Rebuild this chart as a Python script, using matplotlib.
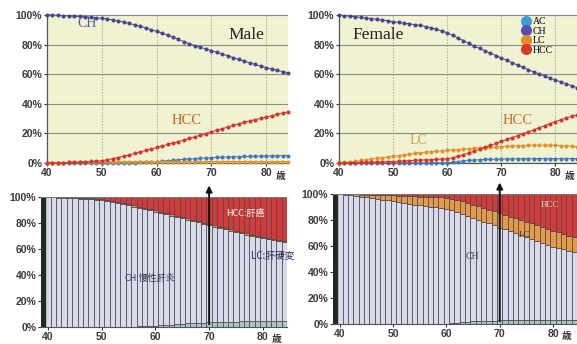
import numpy as np
import matplotlib
matplotlib.use("Agg")
import matplotlib.pyplot as plt
from matplotlib.lines import Line2D

ages = list(range(40, 85))

# male (%)
male_ch = [100, 100, 99.8, 99.6, 99.4, 99.2, 99, 98.8, 98.5, 98.2,
           97.8, 97.3, 96.7, 96, 95.2, 94.3, 93.4, 92.4, 91.3, 90.2,
           89, 87.8, 86.5, 85, 83.5, 82, 80.5, 79.3, 78.2, 77.1,
           76, 74.8, 73.6, 72.4, 71.2, 70, 68.8, 67.7, 66.6, 65.5,
           64.4, 63.5, 62.6, 61.8, 61]
male_hcc = [0, 0.1, 0.2, 0.3, 0.4, 0.5, 0.7, 0.9, 1.1, 1.3,
            1.6, 2.2, 2.9, 3.7, 4.6, 5.5, 6.5, 7.5, 8.5, 9.5,
            10.5, 11.5, 12.5, 13.5, 14.5, 15.5, 16.6, 17.7, 18.8, 19.9,
            21, 22.1, 23.2, 24.3, 25.4, 26.5, 27.5, 28.4, 29.3, 30.2,
            31, 31.9, 32.8, 33.7, 34.5]
male_ac = [0, 0, 0, 0, 0, 0, 0, 0, 0, 0,
           0, 0, 0, 0, 0, 0, 0.2, 0.4, 0.6, 0.8,
           1, 1.3, 1.6, 1.9, 2.2, 2.5, 2.8, 3, 3.2, 3.4,
           3.6, 3.8, 4, 4.1, 4.2, 4.3, 4.4, 4.5, 4.6, 4.7,
           4.8, 4.9, 5, 5, 5]
male_lc = [0, 0.1, 0.2, 0.3, 0.4, 0.5, 0.5, 0.6, 0.6, 0.7,
           0.7, 0.8, 0.8, 0.8, 0.9, 0.9, 0.9, 0.9, 1, 1,
           1, 1, 1, 1, 1, 1, 1, 1, 1, 1,
           1, 1, 1, 1, 1, 1, 1, 1, 1, 1,
           1, 1, 1, 1, 1]

# female (%)
female_ch = [100, 99.6, 99.2, 98.8, 98.4, 98, 97.6, 97.1, 96.6, 96.1,
             95.5, 95, 94.5, 94, 93.5, 93, 92.2, 91.3, 90.3, 89.2,
             88, 86.3, 84.5, 82.7, 80.8, 79, 77.4, 75.8, 74.2, 72.6,
             71, 69.4, 67.8, 66.2, 64.6, 63, 61.6, 60.2, 58.8, 57.4,
             56, 54.8, 53.5, 52.2, 51]
female_lc = [0, 0.4, 0.8, 1.2, 1.7, 2.2, 2.7, 3.1, 3.5, 4,
             4.5, 5, 5.5, 6, 6.5, 7, 7.3, 7.6, 7.9, 8.2,
             8.5, 8.8, 9.1, 9.4, 9.7, 10, 10.2, 10.4, 10.6, 10.8,
             11, 11.2, 11.4, 11.6, 11.8, 12, 12, 12, 12, 12,
             12, 11.8, 11.6, 11.3, 11]
female_hcc = [0, 0.1, 0.2, 0.3, 0.4, 0.5, 0.6, 0.7, 0.8, 0.9,
              1, 1.2, 1.4, 1.6, 1.8, 2, 2.1, 2.2, 2.4, 2.6,
              2.8, 3.6, 4.6, 5.7, 6.8, 8, 9.3, 10.6, 11.9, 13.2,
              14.6, 15.9, 17.2, 18.5, 19.8, 21, 22.4, 23.8, 25.2, 26.6,
              28, 29.2, 30.4, 31.5, 32.6]
female_ac = [0, 0, 0, 0, 0, 0, 0, 0, 0, 0,
             0, 0, 0, 0, 0, 0, 0, 0, 0, 0,
             0, 0.5, 1, 1.4, 1.7, 2, 2.2, 2.4, 2.5, 2.6,
             2.7, 2.8, 2.8, 2.9, 2.9, 3, 3, 3, 3, 3,
             3, 3, 3, 3, 3]

series_names = ["AC", "CH", "LC", "HCC"]
colors = {"AC": "#3f78c0", "CH": "#45478f", "LC": "#e0922e", "HCC": "#d3352c"}
legend_colors = {"AC": "#3f9ad6", "CH": "#5a4fb0", "LC": "#e08a2a", "HCC": "#d83a2a"}
bar_colors = {"AC": "#a8c8bc", "CH": "#d9d9ec", "LC": "#e59a48", "HCC": "#d23b37"}

plt.rcParams["font.family"] = ["Liberation Sans", "Noto Sans CJK JP", "DejaVu Sans"]
cjk = ["Noto Sans CJK JP", "DejaVu Sans"]
serif = ["Liberation Serif", "DejaVu Serif"]

fig = plt.figure(figsize=(5.77, 3.44), dpi=100)
fig.patch.set_facecolor("white")

ax_m = fig.add_axes([47 / 577, 1 - 163 / 344, 241 / 577, 148 / 344])
ax_f = fig.add_axes([339 / 577, 1 - 163 / 344, 238 / 577, 148 / 344])
ax_mb = fig.add_axes([41 / 577, 1 - 327 / 344, 246 / 577, 130 / 344])
ax_fb = fig.add_axes([333 / 577, 1 - 324 / 344, 244 / 577, 130 / 344])


def style_ticks(ax):
    ax.set_ylim(0, 100)
    ax.set_yticks([0, 20, 40, 60, 80, 100])
    ax.set_yticklabels(["0%", "20%", "40%", "60%", "80%", "100%"])
    ax.set_xticks([40, 50, 60, 70, 80])
    ax.tick_params(labelsize=7.5, colors="#333333", length=2, width=0.8, pad=1.5)
    for t in ax.get_xticklabels() + ax.get_yticklabels():
        t.set_fontweight("bold")
        t.set_color("#3a3a3a")
    ax.text(82.6, -0.055, "歳", transform=ax.get_xaxis_transform(),
            fontsize=7, family=cjk, color="#333", ha="center", va="top",
            fontweight="bold")


def line_panel(ax, data):
    ax.set_facecolor("#f0f2d2")
    ax.set_xlim(40, 84)
    style_ticks(ax)
    ax.grid(axis="y", color="#8a8a8a", lw=0.8)
    ax.grid(axis="x", color="#a8a8a0", lw=0.6, ls=(0, (2, 1.5)))
    ax.set_axisbelow(True)
    for name in ["AC", "LC", "HCC", "CH"]:
        ax.plot(ages, data[name], color=colors[name], lw=0.7, marker="o",
                ms=2.9, mew=0, clip_on=False, zorder=3)
    for s in ["top", "right"]:
        ax.spines[s].set_visible(False)
    for s in ["left", "bottom"]:
        ax.spines[s].set_color("#555")
        ax.spines[s].set_linewidth(0.9)


def bar_panel(ax, data):
    ax.set_facecolor("white")
    ax.set_xlim(38.7, 84.5)
    style_ticks(ax)
    total = np.zeros(len(ages))
    for name in series_names:
        total = total + np.array(data[name])
    bottom = np.zeros(len(ages))
    for name in series_names:
        vals = np.array(data[name]) / total * 100
        ax.bar(ages, vals, width=1.0, bottom=bottom, color=bar_colors[name],
               edgecolor="#4a4a55", linewidth=0.55)
        bottom = bottom + vals
    ax.axvspan(38.7, 39.5, color="#1e2a22")
    ax.axhline(100, color="#777", lw=0.8)
    ax.annotate("", xy=(70, 111), xytext=(70, 0),
                arrowprops=dict(arrowstyle="-|>", color="#111", lw=1.4,
                                mutation_scale=9),
                annotation_clip=False)
    for s in ["top", "right"]:
        ax.spines[s].set_visible(False)
    ax.spines["left"].set_visible(False)
    ax.spines["bottom"].set_color("#555")


male = {"AC": male_ac, "CH": male_ch, "LC": male_lc, "HCC": male_hcc}
female = {"AC": female_ac, "CH": female_ch, "LC": female_lc, "HCC": female_hcc}

line_panel(ax_m, male)
line_panel(ax_f, female)
bar_panel(ax_mb, male)
bar_panel(ax_fb, female)

# top labels
ax_m.text(76.4, 86.5, "Male", family=serif, fontsize=12.5, color="#222",
          ha="center", va="center")
ax_m.text(47.3, 94.5, "CH", family=serif, fontsize=10, color="#4b5cae",
          ha="center", va="center", zorder=2)
ax_m.text(65.5, 29, "HCC", family=serif, fontsize=10.5, color="#c8641e",
          ha="center", va="center")
ax_f.text(47.2, 86.5, "Female", family=serif, fontsize=12.5, color="#222",
          ha="center", va="center")
ax_f.text(54.6, 15.5, "LC", family=serif, fontsize=10, color="#c8a040",
          ha="center", va="center")
ax_f.text(73.1, 28.5, "HCC", family=serif, fontsize=10.5, color="#c8702e",
          ha="center", va="center")

handles = [Line2D([], [], ls="none", marker="o", ms=7, color=legend_colors[n])
           for n in series_names]
ax_f.legend(handles, series_names, loc="upper left",
            bbox_to_anchor=(0.77, 0.985), frameon=False,
            prop={"family": serif, "size": 7}, handlelength=0.7,
            handletextpad=0.35, labelspacing=0.05, borderpad=0,
            borderaxespad=0)

# bottom labels
ax_mb.text(76.7, 87.7, "HCC:肝癌", family=cjk, fontsize=6.5, color="white",
           ha="center", va="center")
ax_mb.text(81.8, 54.6, "LC:肝硬変", family=cjk, fontsize=7, color="#2a2f55",
           ha="center", va="center", clip_on=False)
ax_mb.text(59, 37, "CH:慢性肝炎", family=cjk, fontsize=6.5, color="#3a3a50",
           ha="center", va="center")
ax_fb.text(79.4, 91.5, "HCC", family=serif, fontsize=6.5, color="#f3d9d9",
           ha="center", va="center")
ax_fb.text(74.7, 68.5, "LC", family=serif, fontsize=6.5, color="#333",
           ha="center", va="center")
ax_fb.text(64.8, 52, "CH", family=serif, fontsize=7, color="#444",
           ha="center", va="center")

fig.savefig("out.png", dpi=100)
